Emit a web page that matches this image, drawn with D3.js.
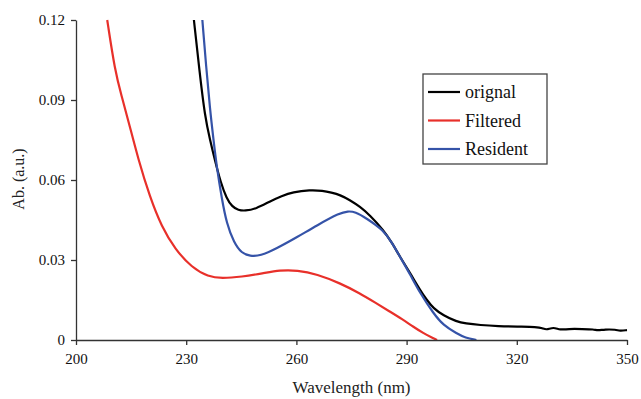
<!DOCTYPE html>
<html>
<head>
<meta charset="utf-8">
<script src="https://cdn.jsdelivr.net/npm/d3@7"></script>
<style>
body { margin: 0; background: #fff; }
svg text { font-family: "Liberation Serif", "Times New Roman", "DejaVu Serif", serif !important; }
</style>
</head>
<body>
<svg id="svg" width="641" height="399"></svg>
<script>
// wavelength (nm) and absorbance
var originalNm = [232.1, 233.6, 235.1, 236.5, 237.8, 239.4, 241.0, 242.5, 244.2, 246, 249, 252.8, 256, 259, 263.7, 267.2, 269.5, 271.9, 274.5, 277.3, 280, 283.7, 286, 288.2, 291, 293.7, 295.5, 297.3, 300, 303.6, 306, 310, 315, 320, 325.5, 327, 328, 330, 331.8, 334, 338, 341, 342, 344, 347, 348, 350];
var originalAb = [0.12, 0.101, 0.0837, 0.075, 0.0675, 0.059, 0.0531, 0.050, 0.0487, 0.0484, 0.0492, 0.052, 0.054, 0.0555, 0.0563, 0.0560, 0.0553, 0.0544, 0.0525, 0.050, 0.0468, 0.0412, 0.0365, 0.0312, 0.025, 0.0187, 0.015, 0.0119, 0.0092, 0.0069, 0.0062, 0.0056, 0.0052, 0.005, 0.0049, 0.0045, 0.0037, 0.0049, 0.0037, 0.0042, 0.0041, 0.0040, 0.0035, 0.0040, 0.0039, 0.0034, 0.0037];

var filteredNm = [208.5, 210.6, 212.4, 214.2, 217.0, 220.1, 223.3, 227.0, 231.5, 236.0, 239.7, 245.1, 250.9, 255.5, 260.2, 265.6, 271.9, 277.3, 281.5, 285.5, 288.8, 291.8, 294.5, 297.3, 298.3];
var filteredAb = [0.12, 0.101, 0.0915, 0.0825, 0.0675, 0.0537, 0.0425, 0.034, 0.0272, 0.0237, 0.0231, 0.0237, 0.025, 0.0262, 0.0262, 0.0247, 0.0213, 0.0175, 0.014, 0.0106, 0.0078, 0.005, 0.0026, 0.0006, 0];

var residentNm = [234.4, 235.4, 236.5, 237.4, 238.3, 239.7, 241.0, 243.0, 245.1, 247.4, 250.1, 254.7, 260.2, 265.6, 271.9, 274.0, 276.0, 279.1, 283.7, 286, 288.2, 291, 293.7, 297.3, 300, 303.6, 306, 309];
var residentAb = [0.12, 0.103, 0.0862, 0.0755, 0.065, 0.053, 0.0437, 0.0365, 0.0325, 0.0315, 0.0315, 0.0344, 0.0386, 0.043, 0.0477, 0.0483, 0.0481, 0.0456, 0.0412, 0.0365, 0.0312, 0.0245, 0.0175, 0.010, 0.0055, 0.0025, 0.0008, 0];

var seriesNames = ['orignal', 'Filtered', 'Resident'];
var seriesColors = ['#000000', '#e8302a', '#3553a8'];
var xTicks = [200, 230, 260, 290, 320, 350];
var yTicks = [0, 0.03, 0.06, 0.09, 0.12];

var series = [
    { name: seriesNames[0], color: seriesColors[0], nm: originalNm, ab: originalAb },
    { name: seriesNames[1], color: seriesColors[1], nm: filteredNm, ab: filteredAb },
    { name: seriesNames[2], color: seriesColors[2], nm: residentNm, ab: residentAb }
];

var marginLeft = 76;
var marginTop = 20;
var plotW = 551;
var plotH = 320;

var svg = d3.select('svg')
    .attr('font-family', 'Liberation Serif')
    .append('g')
    .attr('transform', 'translate(' + marginLeft + ',' + marginTop + ')');

var x = d3.scaleLinear().domain([200, 350]).range([0, plotW]);
var y = d3.scaleLinear().domain([0, 0.12]).range([plotH, 0]);

var line = d3.line()
    .x(function(d){ return x(d[0]); })
    .y(function(d){ return y(d[1]); })
    .curve(d3.curveBasis);

// draw the spectra
series.forEach(function(s){
    svg.append('path')
        .datum(d3.zip(s.nm, s.ab))
        .attr('d', line)
        .attr('fill', 'none')
        .attr('stroke', s.color)
        .attr('stroke-width', 2.2)
        .attr('stroke-linejoin', 'round');
});

// axes
var xAxis = svg.append('g')
    .attr('transform', 'translate(0,' + plotH + ')')
    .call(d3.axisBottom(x).tickValues(xTicks).tickSize(5).tickSizeOuter(0).tickPadding(8));

var yAxis = svg.append('g')
    .call(d3.axisLeft(y).tickValues(yTicks).tickSize(5).tickSizeOuter(0).tickPadding(6)
        .tickFormat(function(d){ return d === 0 ? '0' : d3.format('.2f')(d); }));

[xAxis, yAxis].forEach(function(a){
    a.attr('font-family', 'Liberation Serif').attr('font-size', 15);
    a.select('.domain').attr('stroke', '#333').attr('stroke-width', 1.3);
    a.selectAll('.tick line').attr('stroke', '#333').attr('stroke-width', 1.3);
    a.selectAll('.tick text').attr('fill', '#111');
});

svg.append('text')
    .text('Wavelength (nm)')
    .attr('x', plotW / 2)
    .attr('y', plotH + 53)
    .attr('text-anchor', 'middle')
    .attr('fill', '#222')
    .attr('font-size', 17);

svg.append('text')
    .text('Ab. (a.u.)')
    .attr('transform', 'translate(-52,' + (plotH / 2 - 1) + ') rotate(-90)')
    .attr('text-anchor', 'middle')
    .attr('fill', '#222')
    .attr('font-size', 16);

// legend
var legend = svg.append('g')
    .attr('transform', 'translate(' + (423 - marginLeft) + ',' + (74 - marginTop) + ')');

legend.append('rect')
    .attr('width', 124)
    .attr('height', 90)
    .attr('fill', 'white')
    .attr('stroke', '#444')
    .attr('stroke-width', 1.3);

series.forEach(function(s, i){
    var ly = 18 + i * 28.5;
    legend.append('line')
        .attr('x1', 5).attr('x2', 37)
        .attr('y1', ly).attr('y2', ly)
        .attr('stroke', s.color)
        .attr('stroke-width', 2.2);
    legend.append('text')
        .text(s.name)
        .attr('x', 42)
        .attr('y', ly + 6)
        .attr('fill', '#111')
        .attr('font-size', 18);
});
</script>
</body>
</html>
